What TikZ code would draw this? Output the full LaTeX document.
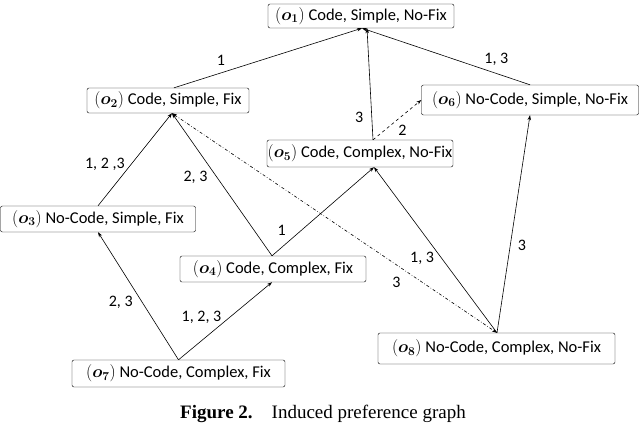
\documentclass[tikz,border=0pt]{standalone}
\usepackage{amsmath}
\usepackage{fontspec}
\setmainfont{Carlito}
\newfontfamily\capfont{Liberation Serif}
\newcommand{\ob}[1]{$(\boldsymbol{o_{#1}})$}
\usetikzlibrary{arrows.meta}
\begin{document}
\begin{tikzpicture}[x=1pt,y=-1pt,
  box/.style={draw,rounded corners=2pt,inner sep=0pt,font=\fontsize{16.5}{18}\selectfont},
  e/.style={-{Stealth[length=5pt,width=3.5pt]},line width=0.6pt},
  lab/.style={font=\fontsize{16}{18}\selectfont}]
\useasboundingbox (0,0) rectangle (640,442);
\node[box,minimum width=186pt,minimum height=24pt] (o1) at (361,16) {\ob{1} Code, Simple, No-Fix};
\node[box,minimum width=162pt,minimum height=25pt] (o2) at (168,100.5) {\ob{2} Code, Simple, Fix};
\node[box,minimum width=217pt,minimum height=30pt] (o6) at (530,100) {\ob{6} No-Code, Simple, No-Fix};
\node[box,minimum width=186pt,minimum height=27pt] (o5) at (360,153.5) {\ob{5} Code, Complex, No-Fix};
\node[box,minimum width=195pt,minimum height=26pt] (o3) at (98,219) {\ob{3} No-Code, Simple, Fix};
\node[box,minimum width=186pt,minimum height=26pt] (o4) at (273,269) {\ob{4} Code, Complex, Fix};
\node[box,minimum width=213pt,minimum height=27pt] (o7) at (178.5,373.5) {\ob{7} No-Code, Complex, Fix};
\node[box,minimum width=237pt,minimum height=31pt] (o8) at (496.5,348.5) {\ob{8} No-Code, Complex, No-Fix};
\node[font=\capfont\fontsize{19}{21}\selectfont] (cap) at (323,414) {\textbf{Figure 2.}\quad Induced preference graph};

\coordinate (o1b) at ([xshift=1pt]o1.south);
\coordinate (o2t) at ([xshift=6pt]o2.north);
\coordinate (o2b) at ([xshift=4pt]o2.south);
\coordinate (o5t) at ([xshift=13pt]o5.north);
\coordinate (o5b) at ([xshift=14pt]o5.south);
\coordinate (o4t) at ([xshift=-1pt]o4.north);
\coordinate (o4b) at ([xshift=-1pt]o4.south);
\coordinate (o6b) at ([xshift=0pt]o6.south);
\coordinate (o6l) at ([yshift=0pt]o6.west);
\coordinate (o8t) at ([xshift=0.5pt]o8.north);

\draw[e] (o2t) -- node[lab,pos=0.25,above=4pt]{1} (o1b);
\draw[e] (o5t) -- node[lab,pos=0.2,left=5pt]{3} ([xshift=5pt]o1b);
\draw[e] (o6.north) -- node[lab,pos=0.2,above=4pt]{1, 3} (o1b);
\draw[e,dashed] (o5t) -- node[lab,pos=0.45,below right=0pt]{2} (o6l);
\draw[e] (o3.north) -- node[lab,pos=0.45,left=3pt]{1, 2 ,3} (o2b);
\draw[e] (o4t) -- node[lab,pos=0.55,left=6pt]{2, 3} (o2b);
\draw[{Stealth[length=5pt,width=3.5pt]}-{Stealth[length=5pt,width=3.5pt]},line width=0.6pt,dash dot] (o2b) -- node[lab,pos=0.72,below left=2pt]{3} (o8t);
\draw[e] (o4t) -- node[lab,pos=0.18,above left=1pt]{1} (o5b);
\draw[e] (o8t) -- node[lab,pos=0.45,left=4pt]{1, 3} (o5b);
\draw[e] (o8t) -- node[lab,pos=0.4,right=4pt]{3} (o6b);
\draw[e] (o7.north) -- node[lab,pos=0.45,left=6pt]{2, 3} (o3.south);
\draw[e] (o7.north) -- node[lab,pos=0.55,left=5pt]{1, 2, 3} (o4b);
\end{tikzpicture}
\end{document}
